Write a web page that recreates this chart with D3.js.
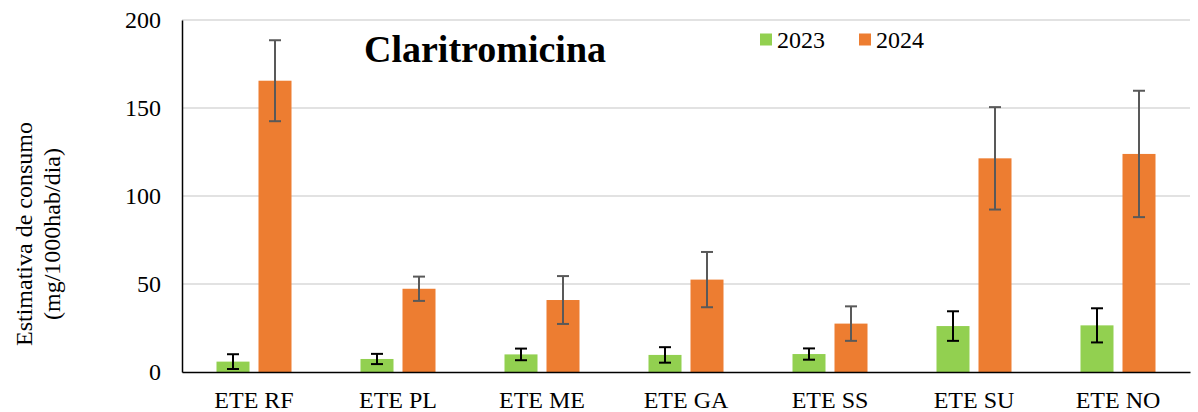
<!DOCTYPE html>
<html><head><meta charset="utf-8">
<script src="https://cdn.jsdelivr.net/npm/d3@7"></script>
<style>
html,body{margin:0;padding:0;background:#fff;}
svg{display:block;}
</style></head>
<body><svg id="chart" width="1198" height="412" font-family="Liberation Serif"></svg>
<script>
const categories = ["ETE RF","ETE PL","ETE ME","ETE GA","ETE SS","ETE SU","ETE NO"];
const seriesNames = ["2023","2024"];
const values2023 = [5.9, 7.4, 10.0, 9.7, 10.2, 26.1, 26.5];
const errors2023 = [4.2, 2.9, 3.3, 4.4, 3.2, 8.4, 9.7];
const values2024 = [165.5, 47.3, 40.9, 52.5, 27.5, 121.4, 123.9];
const errors2024 = [23.0, 6.9, 13.6, 15.7, 9.8, 29.1, 35.9];
const yTicks = [0, 50, 100, 150, 200];
const colors = ["#92D050", "#ED7D31"];
const errColors = ["#000000", "#595959"];
const FONT = "Liberation Serif";

const svg = d3.select("#chart");
const m = {left:182, right:1190, top:20, bottom:372};

const x = d3.scaleBand().domain(categories).range([m.left, m.right]).paddingInner(0).paddingOuter(0);
const bw = 33, gap = 9;
const y = d3.scaleLinear().domain([0,200]).range([m.bottom, m.top]);

// gridlines
svg.append("g").selectAll("line").data(yTicks.filter(t=>t>0)).join("line")
  .attr("x1", m.left).attr("x2", m.right)
  .attr("y1", d=>y(d)).attr("y2", d=>y(d))
  .attr("stroke", "#d9d9d9").attr("stroke-width", 1.5);

const series = [
  {name: seriesNames[0], vals: values2023, errs: errors2023},
  {name: seriesNames[1], vals: values2024, errs: errors2024}
];

series.forEach((s, si) => {
  const off = si === 0 ? -(gap/2 + bw) : gap/2;
  const g = svg.append("g");
  const data = categories.map((c,i)=>({c, v:s.vals[i], e:s.errs[i]}));
  g.selectAll("rect").data(data).join("rect")
    .attr("x", d => x(d.c) + x.bandwidth()/2 + off)
    .attr("width", bw)
    .attr("y", d => y(d.v))
    .attr("height", d => y(0) - y(d.v))
    .attr("fill", colors[si]);
  const eg = svg.append("g").attr("stroke", errColors[si]).attr("stroke-width", 2);
  data.forEach(d => {
    const cx = x(d.c) + x.bandwidth()/2 + off + bw/2;
    const y1 = y(d.v + d.e), y2 = y(Math.max(0, d.v - d.e));
    eg.append("line").attr("x1", cx).attr("x2", cx).attr("y1", y1).attr("y2", y2);
    eg.append("line").attr("x1", cx-6).attr("x2", cx+6).attr("y1", y1).attr("y2", y1);
    eg.append("line").attr("x1", cx-6).attr("x2", cx+6).attr("y1", y2).attr("y2", y2);
  });
});

// axes
const yAxis = d3.axisLeft(y).tickValues(yTicks).tickSize(0).tickPadding(21);
const yg = svg.append("g").attr("transform", `translate(${m.left},0)`).call(yAxis);
yg.attr("font-family", FONT).attr("font-size", 24);
yg.select(".domain").attr("stroke", "#000").attr("stroke-width", 1.5);
yg.selectAll("text").attr("fill", "#000");

const xAxis = d3.axisBottom(x).tickSize(0).tickPadding(19);
const xg = svg.append("g").attr("transform", `translate(0,${m.bottom})`).call(xAxis);
xg.attr("font-family", FONT).attr("font-size", 24);
xg.select(".domain").attr("stroke", "#000").attr("stroke-width", 1.5);
xg.selectAll("text").attr("fill", "#000");

// y title
const yt = svg.append("text").attr("transform", "translate(32,234) rotate(-90)")
  .attr("text-anchor", "middle").attr("font-size", 24).attr("font-family", FONT).attr("fill", "#000");
yt.append("tspan").attr("x", 0).attr("dy", 0).text("Estimativa de consumo");
yt.append("tspan").attr("x", 0).attr("dy", 28).text("(mg/1000hab/dia)");

// title
svg.append("text").attr("x", 485).attr("y", 62).attr("text-anchor", "middle")
  .attr("font-size", 38).attr("font-weight", "bold").attr("font-family", FONT).attr("fill", "#000").text("Claritromicina");

// legend
const legX = [760, 859];
seriesNames.forEach((n, i) => {
  svg.append("rect").attr("x", legX[i]).attr("y", 33.5).attr("width", 12).attr("height", 12).attr("fill", colors[i]);
  svg.append("text").attr("x", legX[i] + 17).attr("y", 48).attr("font-size", 24).attr("font-family", FONT).attr("fill", "#000").text(n);
});
</script></body></html>
